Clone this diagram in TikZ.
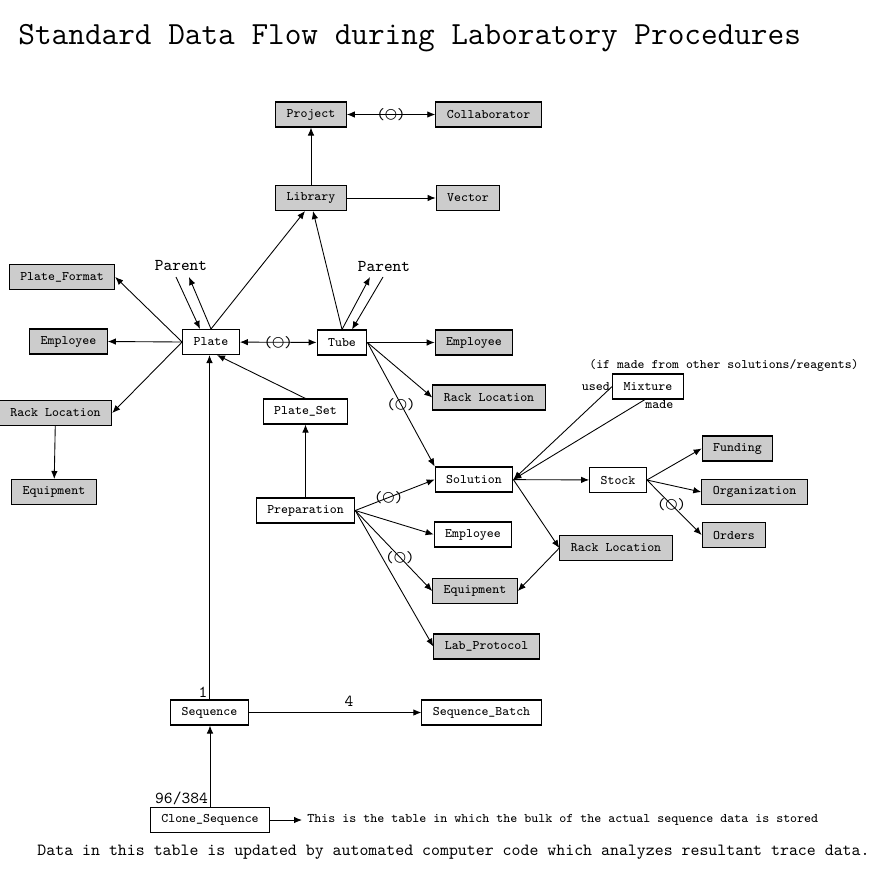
\documentclass[tikz,border=0pt]{standalone}
\usepackage{fontspec}
\newfontfamily\symf{DejaVu Sans}
\usetikzlibrary{arrows.meta,positioning}
\definecolor{tblgray}{RGB}{204,204,204}
\newcommand{\optsym}{(\raisebox{0.1ex}{\symf\fontsize{8}{8}\selectfont ○})}
\tikzset{
	tbl/.style={draw, line width=0.6pt, fill=white, inner xsep=0.22cm, inner ysep=0pt, minimum height=0.5cm, font=\ttfamily\fontsize{7.45}{8}\selectfont},
	ext/.style={tbl, fill=tblgray},
	opt/.style={inner sep=0pt, font=\ttfamily\fontsize{9}{10}\selectfont},
	lbl/.style={inner sep=0pt, font=\ttfamily\fontsize{9.4}{10}\selectfont},
	num/.style={inner sep=1pt, font=\ttfamily\fontsize{9.5}{10}\selectfont},
	note/.style={inner sep=1pt, font=\ttfamily\fontsize{7.5}{8}\selectfont}
}

\begin{document}
\begin{tikzpicture}[x=0.02cm, y=-0.02cm, line width=0.5pt, >={Latex[length=1.6mm,width=1.3mm]}]
	\useasboundingbox (0,0) rectangle (884,875);
	\node (title) [anchor=base west, inner sep=0pt, font=\ttfamily\fontsize{18.4}{20}\selectfont] at (18,45) {Standard Data Flow during Laboratory Procedures};

	\node (project) [ext] at (311,114.5) {Project};
	\node (collab) [ext] at (488.5,114.5) {Collaborator};
	\node (library) [ext] at (311,198) {Library};
	\node (vector) [ext] at (468,198) {Vector};
	\node (pformat) [ext] at (62,277) {Plate\_Format};
	\node (empa) [ext] at (68.5,341.5) {Employee};
	\node (plate) [tbl] at (211,342) {Plate};
	\node (tube) [tbl] at (342,342.5) {Tube};
	\node (empb) [ext] at (474,342.5) {Employee};
	\node (racka) [ext] at (55.5,413) {Rack Location};
	\node (rackb) [ext] at (489,397.5) {Rack Location};
	\node (plateset) [tbl] at (305.5,411.5) {Plate\_Set};
	\node (equipa) [ext] at (54,492) {Equipment};
	\node (mixture) [tbl] at (648,386.5) {Mixture};
	\node (solution) [tbl] at (474,479.5) {Solution};
	\node (stock) [tbl] at (618,480) {Stock};
	\node (funding) [ext] at (737.5,448.5) {Funding};
	\node (org) [ext] at (754.5,492) {Organization};
	\node (orders) [ext] at (734,535) {Orders};
	\node (rackc) [ext] at (616,548) {Rack Location};
	\node (prep) [tbl] at (305.5,510.5) {Preparation};
	\node (empc) [tbl] at (473,534.5) {Employee};
	\node (equipb) [ext] at (475,591) {Equipment};
	\node (labprot) [ext] at (486.5,646.5) {Lab\_Protocol};
	\node (seq) [tbl] at (209.5,712.5) {Sequence};
	\node (seqbatch) [tbl] at (481.5,712.5) {Sequence\_Batch};
	\node (clone) [tbl] at (210,820) {Clone\_Sequence};

	\node (pparent) [lbl] at (181,265) {Parent};
	\coordinate (pin) at (176,277);
	\coordinate (pout) at (189,277);
	\node (tparent) [lbl] at (384,266) {Parent};
	\coordinate (tout) at (370,277);
	\coordinate (tin) at (383,277);
	\node (mixnote) [note, font=\ttfamily\fontsize{7.4}{8}\selectfont] at (724,365) {(if made from other solutions/reagents)};
	\node (seqnote) [note, anchor=base west, inner xsep=0.1cm] at (302,822) {This is the table in which the bulk of the actual sequence data is stored};
	\node (footer) [anchor=base west, inner sep=0pt, font=\ttfamily\fontsize{9.7}{11}\selectfont] at (37,855) {Data in this table is updated by automated computer code which analyzes resultant trace data.};

	\draw [<->] (project) -- node [opt] {\optsym} (collab);
	\draw [->] (library) -- (project);
	\draw [->] (library) -- (vector);
	\draw [->] (plate.north) -- ([xshift=-0.12cm]library.south);
	\draw [->] (tube.north) -- ([xshift=0.04cm]library.south);
	\draw [->] (plate.west) -- (pformat.east);
	\draw [->] (plate.west) -- (empa.east);
	\draw [->] (plate.west) -- (racka.east);
	\draw [->] (racka) -- (equipa);
	\draw [->] (pin) -- ([xshift=-0.22cm]plate.north);
	\draw [->] (plate.north) -- (pout);
	\draw [->] (tube.north) -- (tout);
	\draw [->] (tin) -- ([xshift=0.2cm]tube.north);
	\draw [<->] (plate) -- node [opt] {\optsym} (tube);
	\draw [->] (tube) -- (empb);
	\draw [->] (tube.east) -- (rackb.west);
	\draw [->] (tube.east) -- node [opt] {\optsym} (solution.north west);
	\draw [->] (plateset.north) -- ([xshift=0.12cm]plate.south);
	\draw [->] (prep) -- (plateset);
	\draw [->] (seq.north) -- node [pos=0, above left, num] {1} (seq.north |- plate.south);
	\draw [->] (seq) -- node [pos=0.58, above, num, inner sep=3pt] {4} (seqbatch);
	\draw [->] (clone.north) -- node [pos=0, above left, num] {96/384} (clone.north |- seq.south);
	\draw [->] (clone.east) -- (clone.east -| seqnote.west);
	\draw [->] (prep.east) -- node [pos=0.42, opt] {\optsym} (solution.west);
	\draw [->] (prep.east) -- (empc.west);
	\draw [->] (prep.east) -- node [pos=0.58, opt] {\optsym} (equipb.west);
	\draw [->] (prep.east) -- (labprot.west);
	\draw [->] (solution) -- (stock);
	\draw [->] (solution.east) -- (rackc.west);
	\draw [->] (rackc.west) -- (equipb.east);
	\draw [->] (mixture.west) -- node [pos=0, left, note] {used} (solution.east);
	\draw [->] ([xshift=-0.06cm]mixture.south) -- node [pos=0, below right, note, inner sep=0pt] {made} (solution.east);
	\draw [->] (stock.east) -- (funding.west);
	\draw [->] (stock.east) -- (org.west);
	\draw [->] (stock.east) -- node [pos=0.45, opt] {\optsym} (orders.west);
\end{tikzpicture}
\end{document}
